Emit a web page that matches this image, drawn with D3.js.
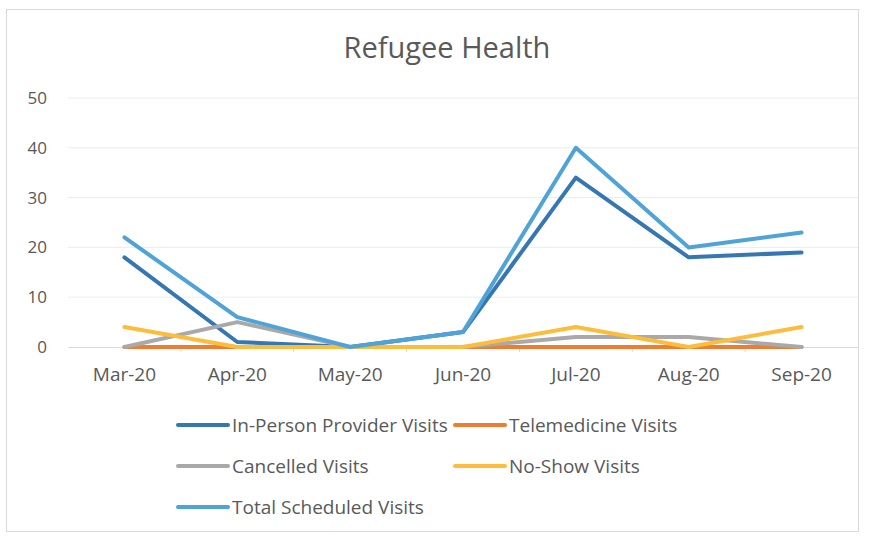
<!DOCTYPE html>
<html>
<head>
<meta charset="utf-8">
<script src="https://cdn.jsdelivr.net/npm/d3@7"></script>
<style>
  body { margin: 0; background: #fff; }
  text { font-family: "Open Sans", sans-serif; fill: #595959; }
</style>
</head>
<body>
<div id="chart"></div>
<script>
// chart data
var months = ["Mar-20", "Apr-20", "May-20", "Jun-20", "Jul-20", "Aug-20", "Sep-20"];
var inPerson = [18, 1, 0, 3, 34, 18, 19];
var telemedicine = [0, 0, 0, 0, 0, 0, 0];
var cancelled = [0, 5, 0, 0, 2, 2, 0];
var noShow = [4, 0, 0, 0, 4, 0, 4];
var totalScheduled = [22, 6, 0, 3, 40, 20, 23];
var yTicks = [0, 10, 20, 30, 40, 50];

var series = [
  {name: "In-Person Provider Visits", values: inPerson, color: "#3577b3"},
  {name: "Telemedicine Visits", values: telemedicine, color: "#ed7d31"},
  {name: "Cancelled Visits", values: cancelled, color: "#a9a9a9"},
  {name: "No-Show Visits", values: noShow, color: "#fbbd3b"},
  {name: "Total Scheduled Visits", values: totalScheduled, color: "#4fa3d7"}
];

var W = 873, H = 538;
var margin = {top: 98, right: 15, bottom: 191, left: 68},
    width = W - margin.left - margin.right,
    height = H - margin.top - margin.bottom;

var svg = d3.select("#chart").append("svg")
    .attr("width", W)
    .attr("height", H);

// outer frame
svg.append("rect")
    .attr("x", 6.5).attr("y", 9.5)
    .attr("width", 852).attr("height", 522)
    .attr("fill", "none")
    .attr("stroke", "#d9d9d9");

svg.append("text")
    .attr("x", 447).attr("y", 58)
    .attr("text-anchor", "middle")
    .style("font-size", "29px")
    .text("Refugee Health");

var g = svg.append("g")
    .attr("transform", "translate(" + margin.left + "," + margin.top + ")");

var x = d3.scaleBand().domain(months).range([0, width]);
var y = d3.scaleLinear().domain([0, 50]).range([height, 0]);

// gridlines
g.append("g").selectAll("line")
  .data(yTicks.slice(1))
  .enter().append("line")
    .attr("x1", 0).attr("x2", width)
    .attr("y1", function(d) { return y(d); })
    .attr("y2", function(d) { return y(d); })
    .attr("stroke", "#ececec");

// y axis labels
g.append("g").selectAll("text")
  .data(yTicks)
  .enter().append("text")
    .attr("x", -21)
    .attr("y", function(d) { return y(d); })
    .attr("dy", "0.35em")
    .attr("text-anchor", "end")
    .style("font-size", "17px")
    .text(function(d) { return d; });

// x axis
var xAxis = g.append("g")
    .attr("transform", "translate(0," + height + ")")
    .call(d3.axisBottom(x).tickSize(0).tickPadding(21));
xAxis.select(".domain").attr("stroke", "#d9d9d9");
xAxis.selectAll("text")
    .style("font-size", "19px")
    .style("font-family", "'Open Sans', sans-serif")
    .attr("fill", "#595959");
xAxis.selectAll(".sep")
  .data(months.slice(1))
  .enter().append("line")
    .attr("class", "sep")
    .attr("x1", function(d) { return x(d); })
    .attr("x2", function(d) { return x(d); })
    .attr("y1", 0).attr("y2", 5)
    .attr("stroke", "#d9d9d9");

var line = d3.line()
    .x(function(d, i) { return x(months[i]) + x.bandwidth() / 2; })
    .y(function(d) { return y(d); });

g.selectAll(".series")
  .data(series)
  .enter().append("path")
    .attr("d", function(d) { return line(d.values); })
    .attr("fill", "none")
    .attr("stroke", function(d) { return d.color; })
    .attr("stroke-width", 4)
    .attr("stroke-linejoin", "round")
    .attr("stroke-linecap", "round");

// legend
var legendPos = [
  {x: 178, y: 425}, {x: 455, y: 425},
  {x: 178, y: 466}, {x: 455, y: 466},
  {x: 178, y: 507}
];
var legend = svg.selectAll(".legend")
  .data(series)
  .enter().append("g")
    .attr("transform", function(d, i) { return "translate(" + legendPos[i].x + "," + legendPos[i].y + ")"; });
legend.append("line")
    .attr("x1", 0).attr("x2", 50)
    .attr("stroke", function(d) { return d.color; })
    .attr("stroke-width", 4)
    .attr("stroke-linecap", "round");
legend.append("text")
    .attr("x", 54)
    .attr("dy", "0.35em")
    .style("font-size", "19px")
    .text(function(d) { return d.name; });
</script>
</body>
</html>
